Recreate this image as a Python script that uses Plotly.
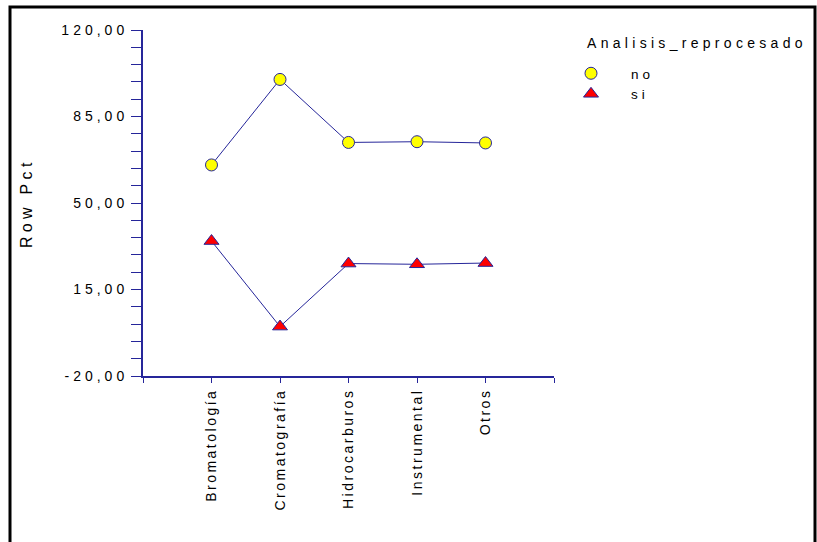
import plotly.graph_objects as go

categories = ["Bromatología", "Cromatografía", "Hidrocarburos", "Instrumental", "Otros"]
no_values = [65.4, 100.0, 74.5, 74.8, 74.3]
si_values = [34.6, 0.0, 25.5, 25.2, 25.7]
y_tick_values = [-20, 15, 50, 85, 120]
y_tick_labels = ["-20,00", "15,00", "50,00", "85,00", "120,00"]
legend_title = "Analisis_reprocesado"
series_names = ["no", "si"]
y_title = "Row Pct"

NAVY = "#26269a"
FONT = "Liberation Sans, Arial, sans-serif"

positions = list(range(1, len(categories) + 1))

# plot-area pixel geometry
W, H = 817, 542
L, R, T, B = 143, 263, 30, 166
PW, PH = W - L - R, H - T - B

def px(xp):
    return (xp - L) / PW

def py(yp):
    return (H - B - yp) / PH

markers = [
    dict(symbol="circle", size=12, color="#ffff00", line=dict(color=NAVY, width=1)),
    dict(symbol="triangle-up", size=13, color="#ff0000", line=dict(color=NAVY, width=1)),
]

fig = go.Figure()
for name, vals in zip(series_names, [no_values, si_values]):
    fig.add_trace(go.Scatter(
        x=positions, y=vals, name=name, mode="lines", showlegend=False,
        line=dict(color=NAVY, width=1), hoverinfo="skip",
    ))
for name, vals, mk in zip(series_names, [no_values, si_values], markers):
    fig.add_trace(go.Scatter(
        x=positions, y=vals, name=name, mode="markers", marker=mk,
    ))

fig.update_layout(
    width=W, height=H,
    margin=dict(l=L, r=R, t=T, b=B, autoexpand=False),
    paper_bgcolor="white", plot_bgcolor="white",
    font=dict(family=FONT, color="black", size=13),
    showlegend=True,
    legend=dict(
        x=px(551), y=py(58), xanchor="left", yanchor="top",
        font=dict(size=13.5, family=FONT),
        bgcolor="rgba(0,0,0,0)", itemwidth=70, tracegroupgap=0,
    ),
    xaxis=dict(
        range=[0, len(categories) + 1],
        tickmode="array",
        tickvals=[0] + positions + [len(categories) + 1],
        ticktext=[""] + categories + [""],
        tickangle=-90,
        ticks="outside", ticklen=5, tickwidth=1, tickcolor=NAVY,
        showline=True, linecolor=NAVY, linewidth=2,
        showgrid=False, zeroline=False,
        tickfont=dict(size=14, family=FONT),
        fixedrange=True,
    ),
    yaxis=dict(
        range=[-20, 120],
        tickmode="array", tickvals=y_tick_values, ticktext=y_tick_labels,
        ticks="outside", ticklen=10, tickwidth=1, tickcolor=NAVY,
        minor=dict(tickmode="linear", tick0=-20, dtick=7, ticks="outside",
                   ticklen=10, tickwidth=1, tickcolor=NAVY, showgrid=False),
        showline=True, linecolor=NAVY, linewidth=2,
        showgrid=False, zeroline=False,
        tickfont=dict(size=14, family=FONT),
        fixedrange=True,
    ),
    annotations=[
        dict(
            text=y_title, xref="paper", yref="paper", x=px(26), y=0.5,
            xanchor="center", yanchor="middle", textangle=-90, showarrow=False,
            font=dict(size=16, family=FONT, color="black"),
        ),
        dict(
            text=legend_title, xref="paper", yref="paper", x=px(628), y=py(43),
            xanchor="left", yanchor="middle", showarrow=False,
            font=dict(size=14, family=FONT, color="black"),
        ),
    ],
    shapes=[dict(
        type="rect", xref="paper", yref="paper",
        x0=px(10), x1=px(815), y0=py(560), y1=py(7),
        line=dict(color="black", width=3), fillcolor="rgba(0,0,0,0)", layer="below",
    )],
)

post = """
document.body.style.margin = '0';
document.body.style.overflow = 'hidden';
var gd = document.getElementById('{plot_id}');
function applySpacing() {
  var sel = [['.xtick text', '2.5px'], ['.ytick text', '4px'],
             ['.legendtext', '4px'], ['.annotation-text', '4.3px']];
  sel.forEach(function (p) {
    gd.querySelectorAll(p[0]).forEach(function (el) { el.style.letterSpacing = p[1]; });
  });
}
applySpacing();
gd.on('plotly_afterplot', applySpacing);
"""

fig.write_html("out.html", post_script=post, config={"displayModeBar": False})
